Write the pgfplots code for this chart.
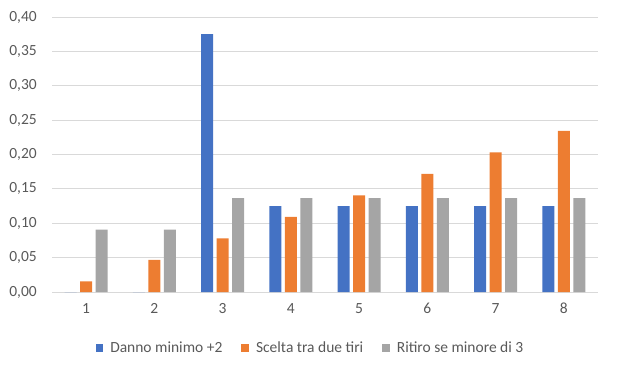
\documentclass[border=0pt]{standalone}
\usepackage{pgfplots}
\pgfplotsset{compat=1.18}
\usepackage{fontspec}
\setmainfont{Carlito}
\definecolor{cblue}{HTML}{4472C4}
\definecolor{corange}{HTML}{ED7D31}
\definecolor{cgray}{HTML}{A5A5A5}
\definecolor{cgrid}{HTML}{D9D9D9}
\definecolor{ctext}{HTML}{595959}
\begin{document}
\begin{tikzpicture}
\path[use as bounding box] (0,0) rectangle (619pt,370pt);
\begin{axis}[
  at={(52pt,78pt)}, anchor=south west,
  scale only axis, width=546pt, height=275pt,
  xmin=0.5, xmax=8.5, ymin=0, ymax=0.4,
  ybar=3.5pt, bar width=12pt,
  xtick={1,...,8},
  ytick={0,0.05,...,0.41},
  ymajorgrids, grid style={cgrid, line width=0.8pt},
  axis line style={draw=none},
  major tick length=0pt,
  font=\fontsize{15.5}{18}\selectfont,
  tick label style={text=ctext},
  /pgf/number format/assume math mode=true,
  yticklabel style={/pgf/number format/use comma, /pgf/number format/fixed, /pgf/number format/fixed zerofill, /pgf/number format/precision=2,
    inner sep=0pt, anchor=east, xshift=-15pt},
  xticklabel style={inner sep=0pt, anchor=north, yshift=-11pt},
  legend columns=3,
  legend style={draw=none, fill=none, at={(0.4734,-0.2036)}, anchor=center,
    font=\fontsize{15.5}{18}\selectfont, text=ctext,
    column sep=5pt,
    inner sep=0pt},
  legend image code/.code={\fill[#1, draw=none] (0pt,-3.8pt) rectangle (7.6pt,3.8pt);},
]
\draw[cgrid, line width=0.8pt] (axis cs:0.5,0) -- (axis cs:8.5,0);
\addplot[fill=cblue, draw=none] coordinates {(1,0) (2,0) (3,0.375) (4,0.125) (5,0.125) (6,0.125) (7,0.125) (8,0.125)};
\addplot[fill=corange, draw=none] coordinates {(1,0.015625) (2,0.046875) (3,0.078125) (4,0.109375) (5,0.140625) (6,0.171875) (7,0.203125) (8,0.234375)};
\addplot[fill=cgray, draw=none] coordinates {(1,0.0909) (2,0.0909) (3,0.1364) (4,0.1364) (5,0.1364) (6,0.1364) (7,0.1364) (8,0.1364)};
\legend{Danno minimo +2\hspace*{12pt}, Scelta tra due tiri\hspace*{12pt}, Ritiro se minore di 3}
\end{axis}
\end{tikzpicture}
\end{document}
